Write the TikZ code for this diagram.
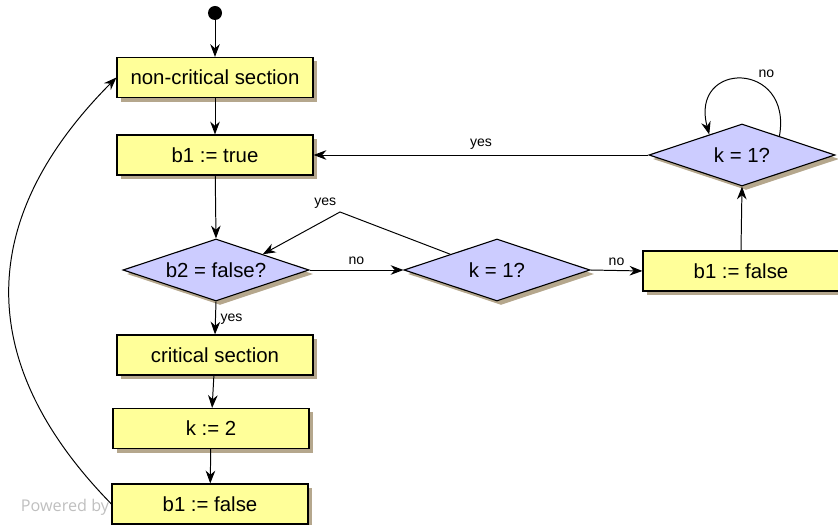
\documentclass[tikz,border=0pt]{standalone}
\usepackage{fontspec}
\setmainfont{Liberation Sans}
\newfontfamily\wmfont{Open Sans}
\usetikzlibrary{shapes.geometric,shadows,arrows.meta,calc}
\definecolor{boxyellow}{RGB}{255,255,153}
\definecolor{decblue}{RGB}{204,204,255}
\definecolor{shadowtan}{RGB}{181,167,141}
\begin{document}
\begin{tikzpicture}[x=0.025cm,y=-0.025cm,
    action/.style={rectangle,draw=black,line width=0.8pt,fill=boxyellow,minimum width=4.9cm,minimum height=1cm,inner sep=0pt,font=\fontsize{14.5}{16}\selectfont,drop shadow={shadow xshift=0.1cm,shadow yshift=-0.1cm,fill=shadowtan,opacity=1}},
    decision/.style={diamond,aspect=3,draw=black,line width=0.8pt,fill=decblue,minimum width=4.65cm,minimum height=1.55cm,inner sep=0pt,font=\fontsize{14.5}{16}\selectfont,drop shadow={shadow xshift=0.1cm,shadow yshift=-0.1cm,fill=shadowtan,opacity=1}},
    flow/.style={-{Stealth[length=0.32cm,width=0.24cm]},line width=0.7pt},
    lbl/.style={font=\fontsize{10}{12}\selectfont}]
    \useasboundingbox (0,0) rectangle (838,525);
    \node[circle,fill=black,minimum size=0.35cm,inner sep=0pt] (start) at (215,13) {};
    \node[action] (ncs) at (215,77.5) {non-critical section};
    \node[action] (btrue) at (215,155) {b1 := true};
    \node[decision] (btwo) at (216,270) {b2 = false?};
    \node[decision] (kmid) at (497,270) {k = 1?};
    \node[action] (bfright) at (741,271) {b1 := false};
    \node[decision] (ktop) at (742,155) {k = 1?};
    \node[action] (crit) at (215,355) {critical section};
    \node[action] (ktwo) at (211,428.5) {k := 2};
    \node[action] (bfalse) at (210,504) {b1 := false};
    \node[font=\wmfont\fontsize{11.5}{13}\selectfont,text=black!25] (wm) at (65,507) {Powered by};
    \coordinate (bend) at (340,212);

    \draw[flow] (start) -- (ncs);
    \draw[flow] (ncs) -- (btrue);
    \draw[flow] (btrue) -- (btwo.north);
    \draw[flow] (btwo.east) -- node[lbl,above] {no} (kmid.west);
    \draw[flow] (btwo.south) -- node[lbl,right,pos=0.55] {yes} (crit.north);
    \draw[flow] (crit) -- (ktwo);
    \draw[flow] (ktwo) -- (bfalse);
    \draw[flow] (bfalse.west) .. controls (-10,380) and (-40,235) .. (ncs.west);
    \draw[flow] (kmid.north west) -- (bend) node[lbl,above left=-1pt] {yes} -- (btwo.north east);
    \draw[flow] (kmid.east) -- node[lbl,above] {no} (bfright.west);
    \draw[flow] (bfright.north) -- (ktop.south);
    \draw[flow] (ktop.west) -- node[lbl,above] {yes} (btrue.east);
    \draw[flow] ($(ktop.north)!0.4!(ktop.east)$) to[out=80,in=105,looseness=2.8] node[lbl,above right=-1pt,pos=0.4] {no} ($(ktop.north)!0.35!(ktop.west)$);
\end{tikzpicture}
\end{document}
